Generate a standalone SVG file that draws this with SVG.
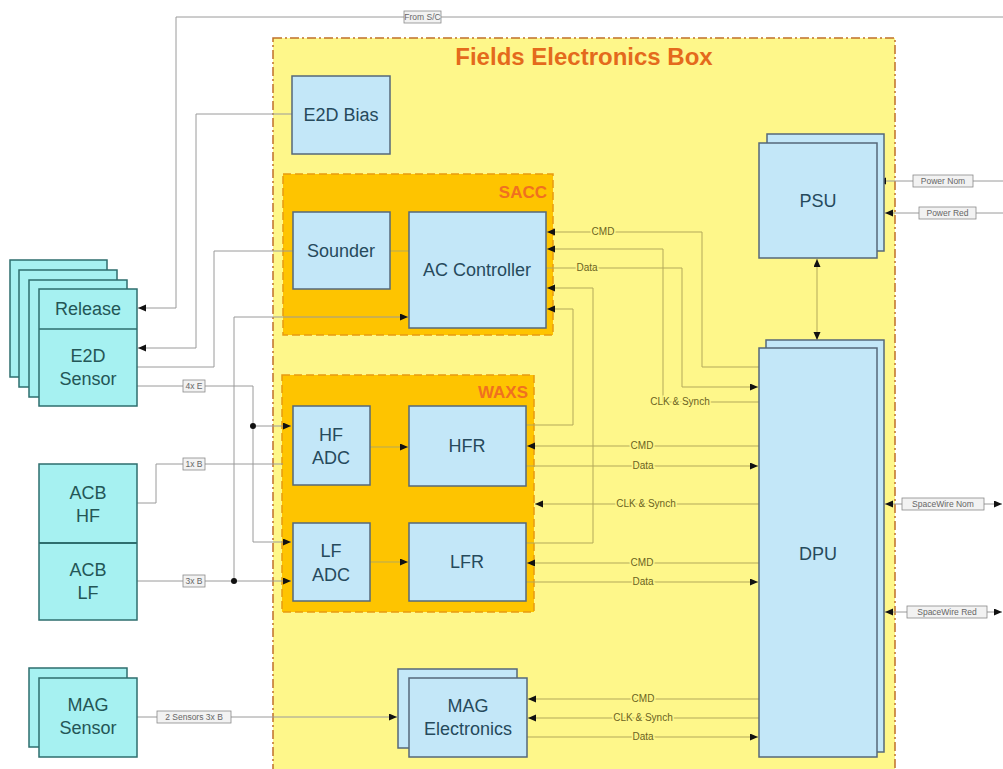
<svg xmlns="http://www.w3.org/2000/svg" width="1003" height="769" viewBox="0 0 1003 769">
<defs>
<marker id="arr" markerUnits="userSpaceOnUse" markerWidth="9" markerHeight="8" refX="8" refY="3.5" orient="auto-start-reverse"><path d="M0,0 L8,3.5 L0,7 z" fill="#111"/></marker>
<style>
.n{fill:#c3e7f8;stroke:#56687a;stroke-width:1.5}
.s{fill:#a6f1f1;stroke:#2e6e6e;stroke-width:1.5}
.t{font-family:"Liberation Sans",Arial,sans-serif;font-size:18px;fill:#264a5c;text-anchor:middle}
.ts{fill:#245656}
.og{fill:none;stroke:#9a9a9a;stroke-width:1}
.ig{fill:none;stroke:#b3a95a;stroke-width:1}
.a{marker-end:url(#arr)}
.b{marker-start:url(#arr);marker-end:url(#arr)}
.il{font-family:"Liberation Sans",Arial,sans-serif;font-size:10px;fill:#6b6322;text-anchor:middle;stroke:#fef78a;stroke-width:3;paint-order:stroke}
.lb{fill:#f2f2f2;stroke:#8a8a8a;stroke-width:0.8}
.ol{font-family:"Liberation Sans",Arial,sans-serif;font-size:8.5px;fill:#666;text-anchor:middle}
.grp{font-family:"Liberation Sans",Arial,sans-serif;font-size:17px;font-weight:bold;fill:#f07020;text-anchor:end}
</style>
</defs>
<rect width="1003" height="769" fill="#fff"/>
<g id="fields-box">
<rect x="273" y="38" width="622" height="740" fill="#fef78a" stroke="#c0702a" stroke-width="1.5" stroke-dasharray="9,3,2,3"/>
<text x="584" y="65" font-family="Liberation Sans,Arial,sans-serif" font-size="24" font-weight="bold" fill="#e46a1c" text-anchor="middle">Fields Electronics Box</text>
</g>
<g id="sacc">
<rect x="283" y="174" width="270" height="161" fill="#fec400" stroke="#e89a10" stroke-width="1.5" stroke-dasharray="8,4"/>
<text class="grp" x="547" y="198">SACC</text>
</g>
<g id="waxs">
<rect x="282" y="375" width="252" height="237" fill="#fec400" stroke="#e89a10" stroke-width="1.5" stroke-dasharray="8,4"/>
<text class="grp" x="528" y="398">WAXS</text>
</g>
<g id="connectors">
<path class="og a" d="M1003,17 H176 V308 H138"/>
<path class="og a" d="M292,114 H196 V348 H138"/>
<path class="og" d="M137,367 H214 V251 H293"/>
<path class="ig" d="M390,251 H409"/>
<path class="og a" d="M137,386 H253 V542 H291"/>
<path class="og a" d="M253,426 H291"/>
<path class="og" d="M137,503 H156 V464 H283"/>
<path class="og a" d="M137,581 H291"/>
<path class="og a" d="M234,581 V317 H408"/>
<path class="og a" d="M137,717 H397"/>
<path class="ig a" d="M759,367 H702 V232 H547"/>
<path class="ig a" d="M759,402 H663 V249 H547"/>
<path class="ig a" d="M546,268 H682 V387 H758"/>
<path class="ig a" d="M526,543 H593 V288 H547"/>
<path class="ig a" d="M526,425 H573 V309 H547"/>
<path class="ig a" d="M759,446 H527"/>
<path class="ig a" d="M526,466 H758"/>
<path class="ig a" d="M759,504 H535"/>
<path class="ig a" d="M759,563 H527"/>
<path class="ig a" d="M526,582 H758"/>
<path class="ig a" d="M370,447 H408"/>
<path class="ig a" d="M370,562 H408"/>
<path class="ig b" d="M817,259 V340"/>
<path class="ig a" d="M759,699 H528"/>
<path class="ig a" d="M759,718 H528"/>
<path class="ig a" d="M527,737 H758"/>
<path class="og a" d="M1003,181 H878"/>
<path class="og a" d="M1003,213 H885"/>
<path class="og b" d="M885,504 H1002"/>
<path class="og b" d="M885,612 H1002"/>
<circle cx="253" cy="426" r="3" fill="#111"/>
<circle cx="234" cy="581" r="3" fill="#111"/>
<text class="il" x="603" y="235">CMD</text>
<text class="il" x="587" y="271">Data</text>
<text class="il" x="680" y="405">CLK &amp; Synch</text>
<text class="il" x="642" y="449">CMD</text>
<text class="il" x="643" y="469">Data</text>
<text class="il" x="646" y="507">CLK &amp; Synch</text>
<text class="il" x="642" y="566">CMD</text>
<text class="il" x="643" y="585">Data</text>
<text class="il" x="643" y="702">CMD</text>
<text class="il" x="643" y="721">CLK &amp; Synch</text>
<text class="il" x="643" y="740">Data</text>
<rect class="lb" x="404" y="11" width="37" height="12"/><text class="ol" x="422.5" y="20">From S/C</text>
<rect class="lb" x="183" y="380" width="22" height="12"/><text class="ol" x="194" y="389">4x E</text>
<rect class="lb" x="183" y="458" width="22" height="12"/><text class="ol" x="194" y="467">1x B</text>
<rect class="lb" x="183" y="575" width="22" height="12"/><text class="ol" x="194" y="584">3x B</text>
<rect class="lb" x="157" y="711" width="74" height="12"/><text class="ol" x="194" y="720">2 Sensors 3x B</text>
<rect class="lb" x="913" y="175" width="60" height="12"/><text class="ol" x="943" y="184">Power Nom</text>
<rect class="lb" x="919" y="207" width="57" height="12"/><text class="ol" x="947.5" y="216">Power Red</text>
<rect class="lb" x="902" y="498" width="82" height="12"/><text class="ol" x="943" y="507">SpaceWire Nom</text>
<rect class="lb" x="907" y="606" width="80" height="12"/><text class="ol" x="947" y="615">SpaceWire Red</text>
</g>
<g id="e2d-bias"><rect class="n" x="292" y="76" width="98" height="78"/><text class="t" x="341" y="121">E2D Bias</text></g>
<g id="sounder"><rect class="n" x="293" y="212" width="97" height="77"/><text class="t" x="341" y="257">Sounder</text></g>
<g id="ac-controller"><rect class="n" x="409" y="212" width="137" height="116"/><text class="t" x="477" y="276">AC Controller</text></g>
<g id="hf-adc"><rect class="n" x="293" y="406" width="77" height="79"/><text class="t" x="331" y="441">HF</text><text class="t" x="331" y="464">ADC</text></g>
<g id="lf-adc"><rect class="n" x="293" y="523" width="77" height="78"/><text class="t" x="331" y="557">LF</text><text class="t" x="331" y="581">ADC</text></g>
<g id="hfr"><rect class="n" x="409" y="406" width="117" height="80"/><text class="t" x="467" y="452">HFR</text></g>
<g id="lfr"><rect class="n" x="409" y="523" width="117" height="78"/><text class="t" x="467" y="568">LFR</text></g>
<g id="psu"><rect class="n" x="767" y="134" width="117" height="117"/><rect class="n" x="759" y="143" width="118" height="115"/><text class="t" x="818" y="207">PSU</text></g>
<g id="dpu"><rect class="n" x="766" y="340" width="118" height="412"/><rect class="n" x="759" y="348" width="118" height="409"/><text class="t" x="818" y="560">DPU</text></g>
<g id="mag-electronics"><rect class="n" x="398" y="669" width="119" height="79"/><rect class="n" x="409" y="678" width="118" height="79"/><text class="t" x="468" y="712">MAG</text><text class="t" x="468" y="735">Electronics</text></g>
<g id="e2d-sensor">
<rect class="s" x="10" y="260" width="97" height="117"/>
<rect class="s" x="19" y="270" width="98" height="117"/>
<rect class="s" x="29" y="280" width="98" height="117"/>
<rect class="s" x="39" y="289" width="98" height="117"/>
<line x1="39" y1="329" x2="137" y2="329" stroke="#2e6e6e" stroke-width="1.5"/>
<text class="t ts" x="88" y="315">Release</text>
<text class="t ts" x="88" y="362">E2D</text><text class="t ts" x="88" y="385">Sensor</text>
</g>
<g id="acb">
<rect class="s" x="39" y="464" width="98" height="156"/>
<line x1="39" y1="543" x2="137" y2="543" stroke="#2e6e6e" stroke-width="2"/>
<text class="t ts" x="88" y="499">ACB</text><text class="t ts" x="88" y="522">HF</text>
<text class="t ts" x="88" y="576">ACB</text><text class="t ts" x="88" y="599">LF</text>
</g>
<g id="mag-sensor"><rect class="s" x="29" y="668" width="98" height="79"/><rect class="s" x="39" y="678" width="98" height="79"/><text class="t ts" x="88" y="711">MAG</text><text class="t ts" x="88" y="734">Sensor</text></g>
</svg>
